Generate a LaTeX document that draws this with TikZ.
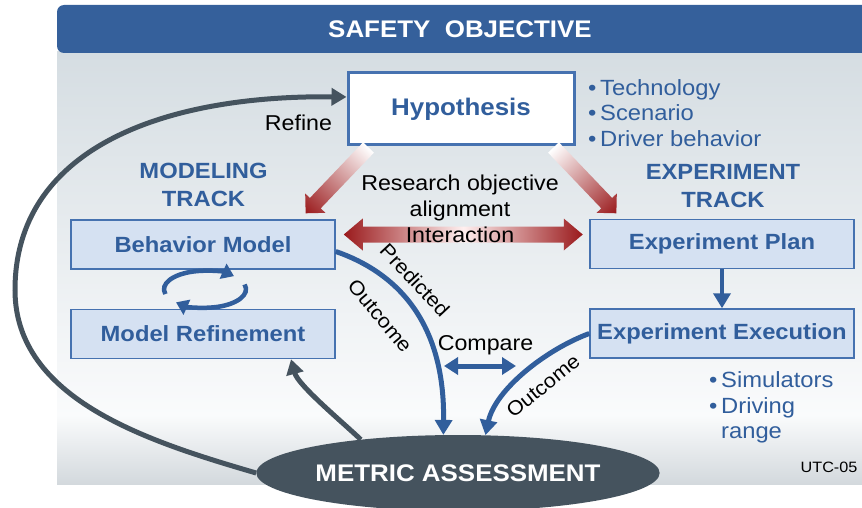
\documentclass[tikz,border=0pt]{standalone}
\usepackage{fontspec}
\setmainfont[FakeStretch=1.08]{Liberation Sans}
\usepackage{tikz}
\usetikzlibrary{arrows.meta, positioning, shapes.geometric, calc}

\definecolor{barblue}{HTML}{35609B}
\definecolor{inkblue}{HTML}{315E9C}
\definecolor{boxfill}{HTML}{D5E1F2}
\definecolor{boxline}{HTML}{4672B0}
\definecolor{slate}{HTML}{45535E}
\definecolor{deepred}{HTML}{9A1A1C}
\definecolor{paneltop}{HTML}{D5DDE2}
\definecolor{panellight}{HTML}{FAFBFC}
\definecolor{panelbottom}{HTML}{D3D9DD}

\newcommand{\fsz}[2]{\fontsize{#1}{#2}\selectfont}
% block arrow along the x axis, tail at the origin
\newcommand{\blockarrow}[1]{(0,-7.5) -- ({#1-14},-7.5) -- ({#1-14},-14) -- (#1,0)
  -- ({#1-14},14) -- ({#1-14},7.5) -- (0,7.5) -- cycle}
% two headed block arrow, left tip at the origin
\newcommand{\twowayarrow}[1]{(0,0) -- (19,-16) -- (19,-8) -- ({#1-19},-8) -- ({#1-19},-16)
  -- (#1,0) -- ({#1-19},16) -- ({#1-19},8) -- (19,8) -- (19,16) -- cycle}

\tikzset{
  track/.style={draw=boxline, line width=1.5pt, fill=boxfill, minimum width=264pt,
    minimum height=49pt, inner sep=0pt, text=inkblue, font=\fsz{22}{26}\bfseries},
  hypbox/.style={draw=boxline, line width=3pt, fill=white, minimum width=226pt,
    minimum height=72pt, inner sep=0pt, text=inkblue, font=\fsz{24}{28}\bfseries},
  heading/.style={text=inkblue, align=center, inner sep=0pt, font=\fsz{22}{28}\bfseries},
  bullets/.style={text=inkblue, align=left, inner sep=0pt, font=\fsz{22}{25.5}},
  notetext/.style={text=black, align=center, inner sep=0pt, font=\fsz{21.5}{26}},
  curvelabel/.style={text=black, inner sep=0pt, font=\fsz{20}{24}},
  metricbox/.style={ellipse, fill=slate, minimum width=373pt, minimum height=76pt,
    inner sep=0pt, text=white, font=\fsz{24}{28}\bfseries},
  loopback/.style={draw=slate, line width=5pt, -{Triangle[length=15pt,width=17pt]}},
  flowarrow/.style={draw=inkblue, line width=5pt, -{Triangle[length=15pt,width=17pt]}},
  cyclearrow/.style={draw=inkblue, line width=4.5pt, -{Triangle[length=12pt,width=16pt]}},
  cmparrow/.style={draw=inkblue, line width=5pt,
    {Triangle[length=14pt,width=17pt]}-{Triangle[length=14pt,width=17pt]}},
  redfade/.style={left color=white, right color=deepred}
}

\begin{document}
\begin{tikzpicture}[x=1pt, y=-1pt]
  \useasboundingbox (0,0) rectangle (862,508);

  % backdrop and banner
  \shade[top color=paneltop, bottom color=panellight] (57,52) rectangle (862,416);
  \shade[top color=panellight, bottom color=panelbottom] (57,415) rectangle (862,484);
  \fill[barblue, rounded corners=7pt] (57,5) rectangle (880,53);
  \node[text=white, font=\fsz{24}{28}\bfseries] (title) at (460,29) {SAFETY\ \ OBJECTIVE};

  % boxes
  \node[hypbox] (hyp) at (461,109) {Hypothesis};
  \node[track] (bmodel) at (203,244.5) {Behavior Model};
  \node[track, below=39pt of bmodel] (mrefine) {Model Refinement};
  \node[track] (eplan) at (722,244) {Experiment Plan};
  \node[track, below=39pt of eplan] (eexec) {Experiment Execution};
  \node[metricbox] (metric) at (458,473) {METRIC ASSESSMENT};

  % side texts
  \node[heading] (mtrack) at (203.5,185) {MODELING\\TRACK};
  \node[heading] (etrack) at (723,186.5) {EXPERIMENT\\TRACK};
  \node[bullets, anchor=west] (factors) at (588,113)
    {•\,Technology\\•\,Scenario\\•\,Driver behavior};
  \node[bullets, anchor=west] (tools) at (709,408)
    {\begin{tabular}{@{}l@{\,}l@{}}•&Simulators\\•&Driving\\&range\end{tabular}};
  \node[text=black, font=\fsz{15}{18}] (tag) at (829,467) {UTC-05};

  % red block arrows from the hypothesis and between the tracks
  \coordinate (tailL) at ($(hyp.south west)+(22,1)$);
  \coordinate (tailR) at ($(hyp.south east)+(-22,1)$);
  \coordinate (tipL) at ($(bmodel.east)+(8,-10)$);
  \begin{scope}[transform canvas={shift={(tailL)}, rotate=-133.7}]
    \shade[redfade] \blockarrow{91};
  \end{scope}
  \begin{scope}[transform canvas={shift={(tailR)}, rotate=-46.3}]
    \shade[redfade] \blockarrow{91};
  \end{scope}
  \begin{scope}[shift={(tipL)}]
    \shade[left color=deepred, right color=deepred, middle color=red!6] \twowayarrow{239};
  \end{scope}
  \node[notetext] (align) at (460,209) {Research objective\\alignment\\Interaction};
  \node[notetext] (refine) at (298.5,123) {Refine};

  % modeling cycle
  \coordinate (spin) at ($(bmodel.south)!0.5!(mrefine.north)+(2,0)$);
  \draw[cyclearrow] ([shift={(165:41 and 18.5)}]spin)
    arc[start angle=165, end angle=315, x radius=41, y radius=18.5];
  \draw[cyclearrow] ([shift={(-15:41 and 18.5)}]spin)
    arc[start angle=-15, end angle=135, x radius=41, y radius=18.5];

  % flows
  \draw[flowarrow, line width=4pt] (eplan) -- (eexec);
  \draw[flowarrow] (bmodel.-3) .. controls (395,272) and (445,320) .. (metric.111.5);
  \draw[flowarrow] (eexec.west) .. controls (545,350) and (495,390) .. (metric.54);
  \node[curvelabel, rotate=-47] (pred) at (415,280) {Predicted};
  \node[curvelabel, rotate=-50] (pout) at (380,316) {Outcome};
  \node[curvelabel, rotate=39] (eout) at (543,386) {Outcome};

  \coordinate (cmpl) at (444,366);
  \coordinate (cmpr) at (516,366);
  \draw[cmparrow] (cmpl) -- (cmpr);
  \node[notetext] (compare) at (485.5,345) {Compare};

  % feedback from the assessment
  \draw[loopback] (metric.west) .. controls (150,442) and (15,400) .. (15,290)
    .. controls (15,150) and (160,95) .. (hyp.174);
  \draw[loopback] (metric.161) .. controls (340,420) and (298,385) .. (mrefine.344.5);
\end{tikzpicture}
\end{document}
